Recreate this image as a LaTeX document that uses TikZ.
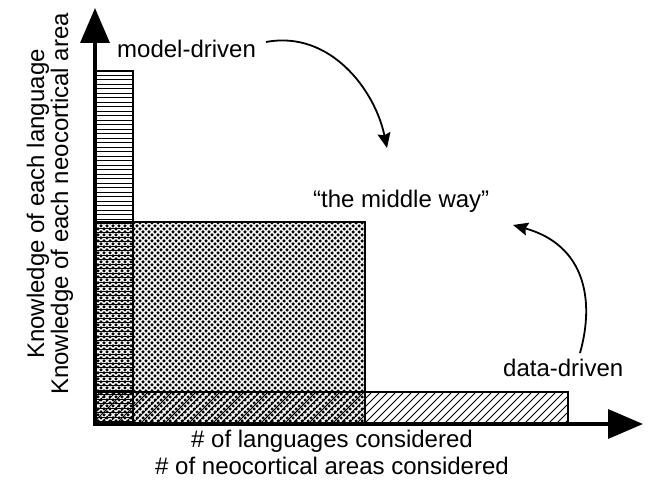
\documentclass[tikz,border=0pt]{standalone}
\usepackage{fontspec}
\setmainfont{Liberation Sans}
\usetikzlibrary{arrows.meta}

\tikzset{
  axisline/.style={line width=3.6pt, -{Triangle[length=35pt,width=29pt]}},
  barframe/.style={line width=1.4pt, draw=black},
  hatchline/.style={line width=0.9pt, black},
  lbl/.style={inner sep=0pt, font=\fontsize{24}{27}\selectfont},
  bendarrow/.style={line width=1.8pt, -{Stealth[length=15pt,width=13pt,inset=2pt]}},
}

\begin{document}
\begin{tikzpicture}[x=1pt,y=1pt]
  \useasboundingbox (0,0) rectangle (649,488);

  % data-driven bar: diagonal hatching
  \begin{scope}
    \clip (95,64) rectangle (568,96);
    \foreach \c in {60,68,...,580}
      \draw[hatchline] (\c,64) -- ++(40,40);
  \end{scope}

  % middle way block: staggered dots
  \begin{scope}
    \clip (95,64) rectangle (365,266);
    \foreach \r in {0,...,68} {
      \pgfmathsetmacro{\yy}{64+3*\r}
      \pgfmathsetmacro{\xo}{mod(\r,2)*3}
      \foreach \k in {0,...,46}
        \fill (95+\xo+6*\k,\yy) circle (1.75);
    }
  \end{scope}

  % model-driven bar: horizontal lines
  \begin{scope}
    \clip (95,64) rectangle (133,417);
    \foreach \h in {66,70.5,...,417}
      \draw[hatchline, line width=1pt] (95,\h) -- (133,\h);
  \end{scope}

  \draw[barframe] (95,64) rectangle (568,96);
  \draw[barframe] (95,64) rectangle (365,266);
  \draw[barframe] (95,64) rectangle (133,417);

  % axes
  \coordinate (origin) at (95,62);
  \coordinate (ytip) at (95,480);
  \coordinate (xstart) at (93,64);
  \coordinate (xtip) at (643,64);
  \draw[axisline] (origin) -- (ytip);
  \draw[axisline] (xstart) -- (xtip);

  % labels
  \node[lbl, anchor=base west] (md) at (117,430) {model-driven};
  \node[lbl, anchor=base west] (mw) at (313,280) {“the middle way”};
  \node[lbl, anchor=base west] (dd) at (503,111) {data-driven};
  \node[lbl, anchor=base] (xa) at (332,40) {\# of languages considered};
  \node[lbl, anchor=base] (xb) at (332,13) {\# of neocortical areas considered};
  \node[lbl, rotate=90, anchor=base] (ya) at (44,284) {Knowledge of each language};
  \node[lbl, rotate=90, anchor=base] (yb) at (68,284) {Knowledge of each neocortical area};

  % curved arrows toward the middle way
  \coordinate (mdtail) at (266,446);
  \coordinate (mdhead) at (387,340);
  \coordinate (ddtail) at (580,135);
  \coordinate (ddhead) at (513,263);
  \draw[bendarrow] (mdtail) .. controls (330,458) and (375,398) .. (mdhead);
  \draw[bendarrow] (ddtail) .. controls (595,188) and (585,243) .. (ddhead);
\end{tikzpicture}
\end{document}
